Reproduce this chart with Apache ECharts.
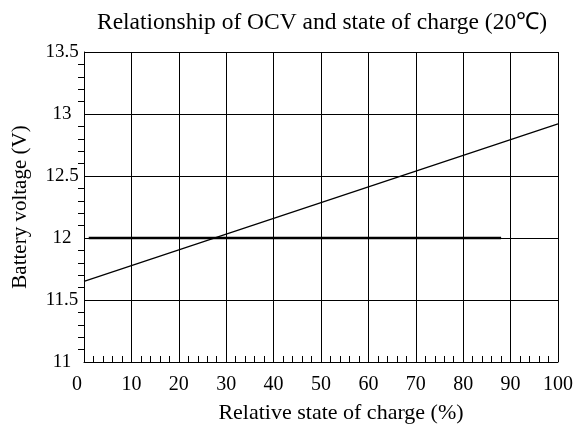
<!DOCTYPE html>
<html>
<head>
<meta charset="utf-8">
<script src="https://cdn.jsdelivr.net/npm/echarts@6/dist/echarts.min.js"></script>
<style>
html, body { margin: 0; padding: 0; background: #fff; }
#chart { width: 578px; height: 430px; }
</style>
</head>
<body>
<div id="chart"></div>
<script>
var titleText = 'Relationship of OCV and state of charge (20℃)';
var xName = 'Relative state of charge (%)';
var yName = 'Battery voltage (V)';

// x range / ticks
var xTicks = [0, 10, 20, 30, 40, 50, 60, 70, 80, 90, 100];
var yTicks = [11, 11.5, 12, 12.5, 13, 13.5];

// OCV line (state of charge %, voltage)
var ocvLine = [[0, 11.65], [100, 12.92]];
// flat reference line at 12 V
var refLine = [[1, 12], [88, 12]];

var font = '"Liberation Serif", "Times New Roman", serif';

var myChart = echarts.init(document.getElementById('chart'));

var option = {
	animation: false,
	title: {
		text: titleText,
		left: 317,
		top: 6,
		textAlign: 'center',
		textStyle: {
			fontFamily: font,
			fontSize: 23.5,
			fontWeight: 'normal',
			color: '#000'
		}
	},
	grid: {
		left: 84,
		right: 20,
		top: 52,
		bottom: 68,
		containLabel: false,
		outerBoundsMode: 'none'
	},
	xAxis: {
		type: 'value',
		min: xTicks[0],
		max: xTicks[xTicks.length - 1],
		interval: 10,
		name: xName,
		nameLocation: 'middle',
		nameGap: 40,
		nameTextStyle: {
			fontFamily: font,
			fontSize: 22,
			color: '#000',
			padding: [0, 0, 0, 40]
		},
		axisLine: { lineStyle: { color: '#000', width: 1 } },
		axisTick: { show: false, inside: true },
		minorTick: {
			show: true,
			splitNumber: 5,
			length: 6,
			lineStyle: { color: '#000', width: 1 }
		},
		axisLabel: {
			margin: 13,
			fontFamily: font,
			fontSize: 20,
			color: '#000',
			formatter: function (v) {
				return v === 0 ? '{z|0}' : String(v);
			},
			rich: {
				z: { fontFamily: font, fontSize: 20, color: '#000', padding: [0, 14, 0, 0] }
			}
		},
		splitLine: { show: true, lineStyle: { color: '#000', width: 1 } }
	},
	yAxis: {
		type: 'value',
		min: yTicks[0],
		max: yTicks[yTicks.length - 1],
		interval: 0.5,
		name: yName,
		nameLocation: 'middle',
		nameGap: 53,
		nameTextStyle: {
			fontFamily: font,
			fontSize: 21,
			color: '#000'
		},
		axisLine: { show: true, lineStyle: { color: '#000', width: 1 } },
		axisTick: { show: false },
		minorTick: {
			show: true,
			splitNumber: 5,
			length: 6,
			lineStyle: { color: '#000', width: 1 }
		},
		axisLabel: {
			margin: 22,
			align: 'center',
			fontFamily: font,
			fontSize: 19,
			color: '#000'
		},
		splitLine: { show: true, lineStyle: { color: '#000', width: 1 } }
	},
	series: [
		{
			type: 'line',
			data: refLine,
			symbol: 'none',
			lineStyle: { color: '#000', width: 2.5 }
		},
		{
			type: 'line',
			data: ocvLine,
			symbol: 'none',
			lineStyle: { color: '#000', width: 1.2 }
		}
	]
};
myChart.setOption(option);
</script>
</body>
</html>
